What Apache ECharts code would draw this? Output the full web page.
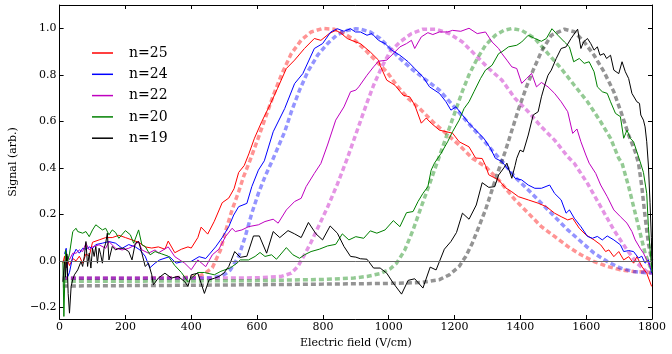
<!DOCTYPE html>
<html>
<head>
<meta charset="utf-8">
<script src="https://cdn.jsdelivr.net/npm/echarts@6.0.0/dist/echarts.min.js"></script>
<style>
  html, body { margin: 0; padding: 0; background: #fff; }
  #chart { width: 672px; height: 354px; }
</style>
</head>
<body>
<div id="chart"></div>
<script>
// measured signals, [field V/cm, signal]
const n25Data = [[10,-0.01],[15,0.02],[20,-0.03],[25,0.0],[30,-0.02],[40,0.01],[50,0.0],[60,0.02],[70,-0.01],[80,0.03],[90,0.02],[100,0.08],[120,0.09],[140,0.1],[160,0.1],[180,0.11],[200,0.1],[220,0.09],[240,0.08],[260,0.06],[280,0.055],[300,0.06],[320,0.05],[330,0.085],[350,0.035],[370,0.05],[390,0.06],[400,0.055],[420,0.1],[430,0.145],[450,0.115],[470,0.17],[494,0.25],[514,0.27],[530,0.31],[544,0.38],[561,0.41],[575,0.46],[592,0.527],[614,0.598],[639,0.67],[662,0.741],[689,0.827],[714,0.863],[744,0.913],[774,0.956],[794,0.948],[819,0.977],[839,0.991],[854,0.98],[874,0.956],[894,0.944],[914,0.934],[944,0.898],[969,0.863],[974,0.84],[994,0.777],[1019,0.755],[1044,0.712],[1064,0.705],[1079,0.67],[1099,0.592],[1114,0.614],[1129,0.592],[1154,0.562],[1194,0.549],[1214,0.512],[1244,0.49],[1264,0.442],[1284,0.44],[1294,0.41],[1304,0.37],[1334,0.348],[1354,0.315],[1374,0.297],[1394,0.276],[1424,0.262],[1454,0.248],[1479,0.233],[1504,0.205],[1524,0.19],[1544,0.176],[1559,0.183],[1579,0.14],[1599,0.112],[1624,0.09],[1644,0.069],[1659,0.04],[1669,0.047],[1684,0.018],[1699,0.04],[1714,0.004],[1729,0.018],[1744,-0.01],[1754,0.018],[1769,-0.024],[1784,-0.053],[1799,-0.11]];
const n24Data = [[15,0.03],[20,0.054],[25,-0.067],[30,-0.05],[40,0.02],[50,0.05],[60,0.033],[70,0.054],[80,0.05],[90,0.06],[100,0.054],[110,0.07],[130,0.076],[150,0.083],[170,0.076],[190,0.054],[210,0.07],[230,0.06],[244,0.047],[260,0.02],[274,-0.03],[290,-0.01],[304,0.004],[334,0.018],[354,-0.01],[374,-0.003],[399,-0.003],[424,0.018],[444,0.01],[474,0.06],[494,0.1],[514,0.147],[529,0.197],[544,0.233],[569,0.247],[584,0.319],[604,0.39],[622,0.43],[649,0.555],[684,0.655],[714,0.762],[739,0.805],[774,0.913],[799,0.934],[824,0.984],[844,0.998],[864,0.987],[884,0.998],[899,0.984],[914,0.984],[934,0.97],[949,0.977],[969,0.948],[989,0.934],[1009,0.906],[1034,0.884],[1059,0.856],[1079,0.827],[1104,0.791],[1124,0.748],[1154,0.72],[1174,0.684],[1189,0.648],[1204,0.662],[1224,0.627],[1244,0.591],[1264,0.562],[1289,0.527],[1309,0.484],[1324,0.441],[1344,0.427],[1359,0.4],[1374,0.376],[1384,0.355],[1404,0.348],[1424,0.326],[1444,0.312],[1464,0.312],[1489,0.326],[1504,0.29],[1524,0.262],[1539,0.205],[1549,0.219],[1564,0.183],[1584,0.147],[1604,0.105],[1619,0.097],[1634,0.105],[1649,0.09],[1664,0.107],[1684,0.09],[1704,0.069],[1714,0.04],[1729,0.044],[1744,0.04],[1759,0.012],[1769,0.02],[1779,-0.01],[1789,0.004],[1799,-0.053]];
const n22Data = [[20,-0.024],[25,0.02],[30,0.005],[40,0.033],[50,0.033],[60,0.047],[70,0.04],[80,0.076],[90,0.047],[100,0.06],[120,0.069],[140,0.054],[150,0.083],[170,0.054],[190,0.047],[210,0.054],[230,0.069],[240,0.083],[250,0.047],[270,0.033],[290,0.047],[300,0.034],[330,0.06],[350,0.018],[380,-0.01],[400,-0.038],[420,0.004],[444,-0.025],[464,0.026],[484,0.05],[504,0.104],[524,0.14],[534,0.126],[554,0.133],[574,0.147],[604,0.155],[624,0.169],[649,0.179],[664,0.162],[689,0.219],[714,0.255],[734,0.269],[749,0.319],[774,0.376],[794,0.419],[814,0.498],[839,0.605],[864,0.662],[884,0.727],[900,0.734],[909,0.748],[934,0.798],[954,0.834],[969,0.858],[994,0.863],[1014,0.891],[1034,0.92],[1054,0.934],[1069,0.948],[1079,0.913],[1099,0.963],[1119,0.981],[1134,0.973],[1154,0.984],[1179,0.984],[1194,0.991],[1219,0.987],[1244,1.0],[1269,0.977],[1294,0.984],[1314,0.941],[1334,0.913],[1344,0.891],[1359,0.863],[1374,0.834],[1389,0.827],[1404,0.763],[1419,0.784],[1434,0.806],[1449,0.748],[1464,0.767],[1484,0.748],[1504,0.72],[1524,0.684],[1544,0.641],[1559,0.548],[1572,0.567],[1584,0.512],[1599,0.455],[1609,0.42],[1629,0.376],[1644,0.326],[1664,0.276],[1684,0.219],[1704,0.19],[1724,0.162],[1739,0.126],[1749,0.09],[1764,0.054],[1774,0.033],[1784,0.004],[1794,-0.024],[1800,-0.04]];
const n20Data = [[10,0.0],[13,-0.239],[18,0.047],[25,0.0],[30,0.03],[40,0.126],[45,0.119],[50,0.14],[55,0.126],[60,0.133],[70,0.119],[80,0.126],[90,0.104],[100,0.133],[110,0.155],[130,0.133],[140,0.14],[150,0.112],[160,0.133],[170,0.122],[180,0.097],[200,0.13],[215,0.112],[225,0.076],[240,0.133],[250,0.069],[260,0.062],[275,0.026],[290,0.04],[310,0.03],[330,0.02],[350,-0.02],[370,-0.05],[390,-0.09],[400,-0.075],[420,-0.05],[440,-0.05],[470,-0.06],[490,-0.045],[519,-0.03],[539,-0.01],[549,0.004],[574,0.004],[594,0.019],[609,0.036],[624,0.019],[644,0.026],[659,0.007],[689,0.057],[709,0.026],[729,0.011],[744,0.026],[764,0.04],[789,0.05],[814,0.064],[839,0.071],[859,0.116],[879,0.09],[900,0.104],[924,0.097],[944,0.129],[964,0.119],[989,0.133],[1014,0.173],[1034,0.147],[1054,0.207],[1074,0.212],[1089,0.255],[1104,0.29],[1119,0.319],[1129,0.39],[1139,0.42],[1159,0.462],[1179,0.512],[1194,0.555],[1214,0.605],[1229,0.655],[1244,0.684],[1259,0.727],[1279,0.784],[1294,0.82],[1314,0.841],[1334,0.891],[1344,0.899],[1364,0.92],[1389,0.927],[1404,0.941],[1424,0.97],[1444,0.956],[1464,0.944],[1479,0.956],[1496,0.998],[1514,0.97],[1534,0.941],[1549,0.92],[1562,0.856],[1579,0.87],[1594,0.849],[1609,0.856],[1624,0.813],[1634,0.748],[1649,0.727],[1664,0.72],[1674,0.684],[1689,0.634],[1704,0.62],[1714,0.527],[1724,0.562],[1734,0.527],[1744,0.512],[1754,0.469],[1764,0.426],[1774,0.38],[1784,0.29],[1789,0.147],[1794,0.05],[1800,-0.05]];
const n19Data = [[10,-0.09],[15,0.0],[18,-0.07],[22,0.03],[26,-0.14],[30,-0.225],[35,-0.11],[40,-0.08],[45,-0.06],[50,-0.067],[55,-0.039],[60,-0.039],[65,-0.003],[70,-0.024],[75,0.018],[80,0.083],[85,-0.024],[90,0.033],[95,-0.031],[100,0.054],[105,0.019],[110,0.062],[115,-0.01],[120,0.054],[125,0.026],[130,-0.01],[135,0.054],[140,0.076],[145,0.119],[150,0.004],[160,0.062],[170,0.047],[180,0.054],[195,0.054],[210,0.04],[220,0.004],[230,0.076],[240,0.083],[250,0.033],[260,-0.024],[270,-0.01],[280,-0.06],[285,-0.103],[300,-0.074],[320,-0.053],[340,-0.074],[360,-0.067],[380,-0.089],[390,-0.11],[400,-0.06],[420,-0.053],[440,-0.14],[454,-0.082],[470,-0.075],[484,-0.067],[499,-0.053],[514,-0.024],[532,0.04],[549,0.015],[569,0.02],[589,0.107],[607,0.107],[629,0.033],[649,0.126],[669,0.1],[694,0.13],[714,0.116],[734,0.1],[756,0.165],[779,0.116],[799,0.09],[822,0.15],[844,0.119],[864,0.062],[884,0.019],[900,0.016],[914,0.009],[934,0.007],[954,-0.031],[974,-0.031],[994,-0.053],[1014,-0.096],[1039,-0.143],[1059,-0.084],[1079,-0.077],[1104,-0.117],[1126,-0.027],[1144,-0.039],[1169,0.05],[1189,0.083],[1206,0.122],[1224,0.205],[1244,0.179],[1266,0.24],[1284,0.336],[1304,0.316],[1322,0.319],[1334,0.369],[1350,0.4],[1359,0.42],[1374,0.355],[1384,0.41],[1389,0.441],[1399,0.476],[1409,0.469],[1424,0.541],[1439,0.627],[1454,0.641],[1464,0.705],[1474,0.755],[1484,0.798],[1494,0.82],[1509,0.87],[1524,0.913],[1539,0.92],[1554,0.956],[1574,0.996],[1584,0.913],[1592,0.941],[1604,0.956],[1614,0.934],[1624,0.906],[1634,0.92],[1642,0.884],[1654,0.891],[1662,0.87],[1674,0.884],[1684,0.82],[1699,0.805],[1709,0.856],[1719,0.813],[1729,0.784],[1739,0.72],[1744,0.712],[1754,0.684],[1762,0.677],[1766,0.627],[1774,0.605],[1779,0.576],[1784,0.512],[1789,0.412],[1794,0.25],[1798,0.1],[1800,-0.02]];

// fitted curves (dashed)
const n25Fit = [[10,-0.075],[200,-0.075],[350,-0.073],[420,-0.068],[440,-0.055],[464,-0.03],[489,0.047],[504,0.126],[524,0.219],[544,0.297],[559,0.362],[578,0.43],[604,0.53],[624,0.61],[649,0.71],[674,0.8],[704,0.891],[734,0.949],[764,0.984],[799,0.999],[834,0.996],[864,0.977],[894,0.952],[924,0.913],[954,0.87],[994,0.813],[1024,0.755],[1059,0.698],[1094,0.655],[1134,0.598],[1174,0.548],[1214,0.498],[1254,0.441],[1294,0.405],[1334,0.348],[1384,0.262],[1424,0.205],[1464,0.147],[1504,0.105],[1544,0.062],[1584,0.026],[1624,-0.003],[1664,-0.024],[1704,-0.039],[1744,-0.046],[1800,-0.05]];
const n24Fit = [[10,-0.075],[300,-0.075],[460,-0.073],[490,-0.065],[505,-0.055],[519,-0.039],[544,0.019],[564,0.104],[584,0.205],[604,0.29],[624,0.362],[649,0.44],[684,0.555],[704,0.641],[729,0.734],[754,0.813],[784,0.884],[814,0.934],[844,0.973],[874,0.991],[900,0.998],[914,0.996],[944,0.984],[974,0.956],[1004,0.913],[1034,0.87],[1074,0.82],[1114,0.777],[1154,0.734],[1194,0.67],[1234,0.605],[1274,0.541],[1314,0.476],[1350,0.419],[1384,0.36],[1424,0.305],[1464,0.248],[1504,0.19],[1544,0.133],[1584,0.083],[1624,0.033],[1664,-0.003],[1704,-0.031],[1744,-0.046],[1800,-0.053]];
const n22Fit = [[10,-0.075],[400,-0.075],[600,-0.073],[674,-0.067],[704,-0.053],[724,-0.024],[744,0.026],[764,0.08],[784,0.14],[814,0.23],[844,0.33],[874,0.44],[894,0.52],[914,0.6],[934,0.68],[954,0.755],[979,0.834],[1004,0.899],[1034,0.941],[1069,0.977],[1104,0.996],[1144,0.996],[1184,0.977],[1224,0.941],[1264,0.884],[1304,0.827],[1344,0.777],[1384,0.698],[1424,0.641],[1464,0.576],[1504,0.519],[1544,0.448],[1564,0.419],[1604,0.333],[1644,0.233],[1684,0.133],[1724,0.047],[1754,-0.01],[1784,-0.046],[1800,-0.053]];
const n20Fit = [[10,-0.088],[300,-0.087],[600,-0.085],[800,-0.08],[894,-0.074],[934,-0.067],[974,-0.055],[1004,-0.035],[1024,-0.01],[1049,0.047],[1074,0.133],[1099,0.233],[1124,0.33],[1144,0.41],[1164,0.49],[1184,0.57],[1204,0.65],[1224,0.73],[1244,0.8],[1269,0.87],[1294,0.927],[1324,0.97],[1350,0.991],[1374,0.999],[1404,0.991],[1444,0.956],[1484,0.891],[1524,0.827],[1564,0.755],[1604,0.684],[1644,0.598],[1674,0.527],[1699,0.441],[1709,0.42],[1729,0.319],[1749,0.205],[1764,0.119],[1779,0.033],[1794,-0.024],[1800,-0.04]];
const n19Fit = [[10,-0.108],[400,-0.105],[800,-0.1],[1000,-0.097],[1100,-0.093],[1154,-0.081],[1184,-0.06],[1214,-0.024],[1234,0.019],[1254,0.076],[1274,0.147],[1294,0.219],[1314,0.305],[1334,0.39],[1354,0.47],[1374,0.56],[1394,0.65],[1419,0.75],[1439,0.82],[1464,0.9],[1494,0.97],[1534,0.996],[1564,0.985],[1594,0.941],[1624,0.884],[1654,0.813],[1684,0.727],[1709,0.627],[1729,0.541],[1749,0.469],[1759,0.42],[1769,0.319],[1779,0.19],[1789,0.076],[1799,0.004]];

const seriesNames = ["n=25", "n=24", "n=22", "n=20", "n=19"];
const seriesColors = ["#ff0000", "#0000ff", "#bf00bf", "#008000", "#000000"];
const measured = [n25Data, n24Data, n22Data, n20Data, n19Data];
const fits = [n25Fit, n24Fit, n22Fit, n20Fit, n19Fit];
const xTicks = [0, 200, 400, 600, 800, 1000, 1200, 1400, 1600, 1800];
const yTicks = [-0.2, 0, 0.2, 0.4, 0.6, 0.8, 1.0];

const FONT = "DejaVu Serif";
const chart = echarts.init(document.getElementById("chart"), null, { renderer: "canvas" });

function fmtY(v) {
  return v.toFixed(1).replace("-", "\u2212");
}

const series = [];
fits.forEach((d, i) => {
  series.push({
    name: seriesNames[i] + " fit",
    type: "line",
    data: d,
    symbol: "none",
    z: 1,
    lineStyle: { color: seriesColors[i], width: 3.5, type: [5, 3], opacity: 0.42 },
  });
});
measured.forEach((d, i) => {
  series.push({
    name: seriesNames[i],
    type: "line",
    data: d,
    symbol: "none",
    color: seriesColors[i],
    z: 3,
    lineStyle: { color: seriesColors[i], width: 1 },
  });
});
// zero line
series[0].markLine = {
  silent: true,
  symbol: ["none", "none"],
  label: { show: false },
  lineStyle: { color: "#666", width: 1, type: "solid", opacity: 1 },
  data: [{ yAxis: 0 }],
};

const tickStyle = { inside: true, length: 4, lineStyle: { color: "#000", width: 1 } };
const lineAx = { show: true, onZero: false, lineStyle: { color: "#000", width: 1 } };

const option = {
  animation: false,
  backgroundColor: "#fff",
  grid: { left: 52, right: 20, top: 5, bottom: 35 },
  legend: {
    data: seriesNames,
    orient: "vertical",
    left: 92,
    top: 46,
    padding: 0,
    icon: "rect",
    itemWidth: 21,
    itemHeight: 1.5,
    itemGap: 7.3,
    textStyle: { fontFamily: FONT, fontSize: 14, color: "#000", lineHeight: 14, padding: [0, 0, 0, 11] },
  },
  xAxis: [
    {
      type: "value",
      min: 0,
      max: 1800,
      interval: 200,
      name: "Electric field (V/cm)",
      nameLocation: "middle",
      nameGap: 16,
      nameTextStyle: { fontFamily: FONT, fontSize: 11, color: "#000" },
      axisLine: lineAx,
      axisTick: Object.assign({ customValues: xTicks }, tickStyle),
      axisLabel: { customValues: xTicks, formatter: (v) => String(v), fontFamily: FONT, fontSize: 11, color: "#000", margin: 3 },
      splitLine: { show: false },
    },
    {
      type: "value",
      position: "top",
      min: 0,
      max: 1800,
      interval: 200,
      axisLine: lineAx,
      axisTick: tickStyle,
      axisLabel: { show: false },
      splitLine: { show: false },
    },
  ],
  yAxis: [
    {
      type: "value",
      min: -0.25,
      max: 1.1,
      name: "Signal (arb.)",
      nameLocation: "middle",
      nameGap: 33,
      nameTextStyle: { fontFamily: FONT, fontSize: 11, color: "#000" },
      axisLine: lineAx,
      axisTick: Object.assign({ customValues: yTicks }, tickStyle),
      axisLabel: { customValues: yTicks, formatter: fmtY, fontFamily: FONT, fontSize: 11, color: "#000", margin: 3 },
      splitLine: { show: false },
    },
    {
      type: "value",
      position: "right",
      min: -0.25,
      max: 1.1,
      axisLine: lineAx,
      axisTick: Object.assign({ customValues: yTicks }, tickStyle),
      axisLabel: { show: false },
      splitLine: { show: false },
    },
  ],
  series: series,
};

chart.setOption(option);
</script>
</body>
</html>
